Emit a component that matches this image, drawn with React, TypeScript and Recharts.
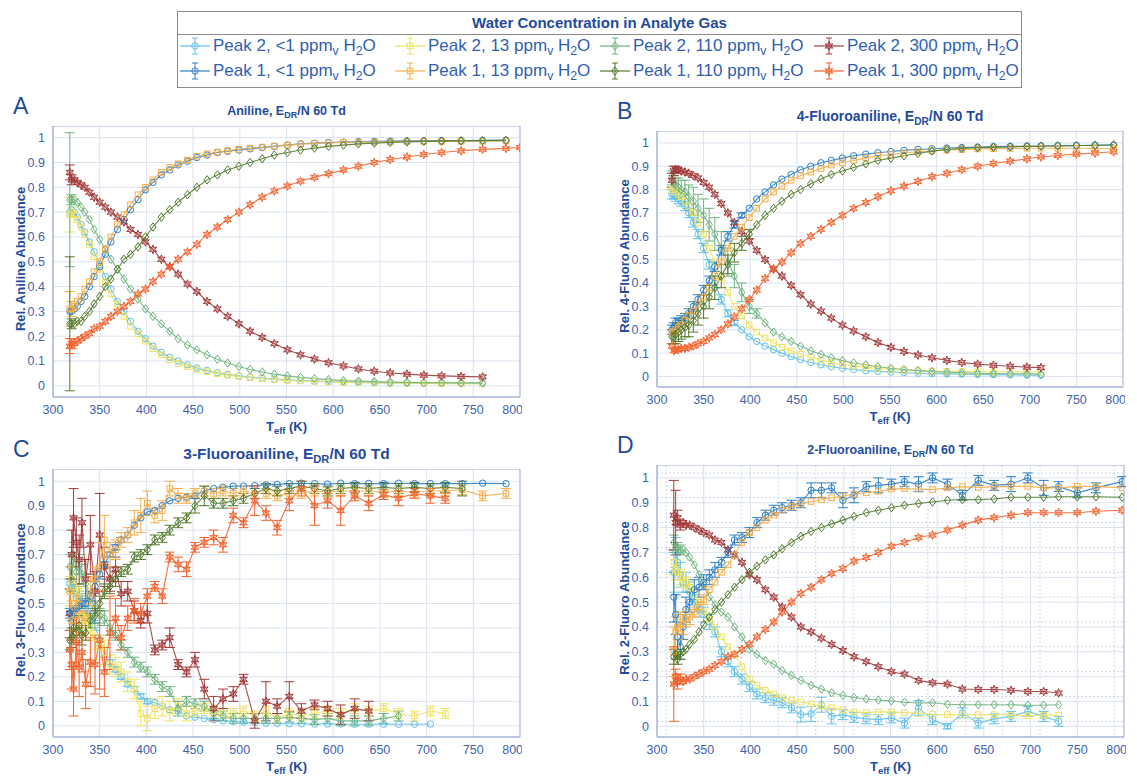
import React from 'react';
import { LineChart, Line, XAxis, YAxis, CartesianGrid, ErrorBar, ReferenceArea } from 'recharts';

// ---- axis ticks ----
const xTicks = [300, 350, 400, 450, 500, 550, 600, 650, 700, 750, 800];
const yTicks = [0, 0.1, 0.2, 0.3, 0.4, 0.5, 0.6, 0.7, 0.8, 0.9, 1];

// ---- A: Aniline ----
const tA = [318, 320, 323, 326, 330, 334, 339, 344, 350, 356, 362, 369, 376, 383, 391, 399, 407, 416, 425, 434, 444, 454, 465, 476, 487, 499, 511, 524, 537, 551, 565, 580, 595, 611, 627, 644, 661, 679, 697, 716, 737, 760, 785, 800];
const aP2lt1 = [0.70, 0.71, 0.70, 0.68, 0.65, 0.62, 0.58, 0.54, 0.49, 0.44, 0.39, 0.34, 0.30, 0.26, 0.22, 0.19, 0.16, 0.135, 0.115, 0.10, 0.085, 0.072, 0.062, 0.053, 0.046, 0.04, 0.035, 0.031, 0.027, 0.024, 0.021, 0.019, 0.017, 0.015, 0.014, 0.013, 0.012, 0.012, 0.011, 0.01, 0.01, 0.01, null, null];
const aP1lt1 = [0.30, 0.30, 0.31, 0.32, 0.34, 0.36, 0.40, 0.44, 0.48, 0.53, 0.58, 0.63, 0.67, 0.71, 0.75, 0.79, 0.82, 0.85, 0.87, 0.89, 0.905, 0.92, 0.93, 0.94, 0.945, 0.95, 0.955, 0.96, 0.965, 0.97, 0.975, 0.978, 0.98, 0.982, 0.984, 0.985, 0.986, 0.987, 0.987, 0.988, 0.988, 0.989, 0.99, null];
const aP2w13 = [0.69, 0.70, 0.69, 0.67, 0.64, 0.61, 0.57, 0.52, 0.47, 0.42, 0.37, 0.33, 0.28, 0.24, 0.21, 0.18, 0.15, 0.125, 0.105, 0.09, 0.077, 0.066, 0.057, 0.049, 0.043, 0.038, 0.033, 0.029, 0.026, 0.022, 0.02, 0.018, 0.016, 0.014, 0.013, 0.012, 0.011, 0.01, 0.01, 0.009, 0.009, 0.008, null, null];
const aP1w13 = [0.31, 0.31, 0.32, 0.34, 0.36, 0.39, 0.42, 0.46, 0.50, 0.55, 0.60, 0.65, 0.69, 0.73, 0.77, 0.80, 0.83, 0.86, 0.88, 0.895, 0.91, 0.925, 0.935, 0.942, 0.948, 0.953, 0.958, 0.962, 0.966, 0.97, 0.974, 0.977, 0.979, 0.981, 0.982, 0.983, 0.984, 0.985, 0.985, 0.985, 0.986, 0.986, 0.987, null];
const aP2w110 = [0.75, 0.75, 0.75, 0.74, 0.72, 0.70, 0.67, 0.63, 0.59, 0.55, 0.51, 0.47, 0.43, 0.39, 0.35, 0.31, 0.28, 0.25, 0.22, 0.19, 0.165, 0.145, 0.125, 0.107, 0.092, 0.078, 0.066, 0.056, 0.047, 0.04, 0.034, 0.029, 0.025, 0.021, 0.019, 0.017, 0.015, 0.014, 0.013, 0.013, 0.012, 0.012, null, null];
const aP1w110 = [0.25, 0.25, 0.25, 0.26, 0.26, 0.28, 0.30, 0.33, 0.36, 0.40, 0.43, 0.47, 0.51, 0.53, 0.56, 0.60, 0.64, 0.68, 0.71, 0.74, 0.77, 0.80, 0.83, 0.85, 0.87, 0.885, 0.90, 0.915, 0.93, 0.94, 0.95, 0.958, 0.965, 0.97, 0.975, 0.978, 0.981, 0.983, 0.985, 0.986, 0.987, 0.988, 0.989, null];
const aP2w300 = [0.86, 0.83, 0.83, 0.82, 0.81, 0.80, 0.78, 0.76, 0.74, 0.72, 0.70, 0.68, 0.66, 0.63, 0.61, 0.58, 0.55, 0.51, 0.48, 0.45, 0.41, 0.38, 0.34, 0.31, 0.28, 0.25, 0.22, 0.195, 0.17, 0.145, 0.125, 0.108, 0.093, 0.08, 0.068, 0.059, 0.052, 0.047, 0.043, 0.04, 0.038, 0.036, null, null];
const aP1w300 = [0.16, 0.17, 0.17, 0.18, 0.19, 0.20, 0.21, 0.23, 0.24, 0.26, 0.28, 0.30, 0.32, 0.34, 0.37, 0.39, 0.42, 0.45, 0.48, 0.51, 0.54, 0.57, 0.61, 0.64, 0.67, 0.70, 0.73, 0.76, 0.785, 0.805, 0.825, 0.84, 0.855, 0.87, 0.885, 0.90, 0.912, 0.922, 0.932, 0.94, 0.947, 0.953, 0.957, 0.96];
const eA_P2w110 = [0.27, 0.02];
const eA_P1w110 = [0.27, 0.02];
const eA_P2w13 = [0.07, 0.02];
const eA_P1w13 = [0.07, 0.03];
const eA_P2w300 = [0.03, 0.02];
const eA_P1w300 = [0.03, 0.02];

// ---- B: 4-Fluoroaniline ----
const tB = [316, 318, 320, 323, 326, 330, 334, 339, 344, 350, 356, 362, 369, 376, 383, 391, 399, 407, 416, 425, 434, 444, 454, 465, 476, 487, 499, 511, 524, 537, 551, 565, 580, 595, 611, 627, 644, 661, 679, 697, 712, 730, 750, 770, 790];
const bP2lt1 = [0.78, 0.78, 0.77, 0.76, 0.75, 0.73, 0.70, 0.66, 0.61, 0.55, 0.48, 0.40, 0.33, 0.27, 0.23, 0.20, 0.17, 0.15, 0.13, 0.115, 0.10, 0.085, 0.072, 0.06, 0.05, 0.042, 0.035, 0.03, 0.025, 0.022, 0.019, 0.016, 0.014, 0.012, 0.011, 0.01, 0.009, 0.008, 0.007, 0.006, 0.005, null, null, null, null];
const bP1lt1 = [0.20, 0.21, 0.23, 0.23, 0.24, 0.25, 0.27, 0.30, 0.33, 0.37, 0.41, 0.47, 0.54, 0.60, 0.65, 0.69, 0.72, 0.76, 0.79, 0.82, 0.845, 0.865, 0.885, 0.90, 0.915, 0.925, 0.935, 0.945, 0.952, 0.958, 0.963, 0.968, 0.972, 0.975, 0.978, 0.98, 0.982, 0.984, 0.985, 0.986, 0.987, 0.988, 0.989, 0.99, 0.99];
const bP2w13 = [0.80, 0.80, 0.79, 0.78, 0.77, 0.75, 0.73, 0.70, 0.66, 0.61, 0.55, 0.49, 0.42, 0.36, 0.30, 0.26, 0.22, 0.19, 0.165, 0.145, 0.125, 0.11, 0.095, 0.082, 0.07, 0.06, 0.052, 0.045, 0.04, 0.035, 0.03, 0.027, 0.025, 0.023, 0.022, 0.021, 0.02, 0.02, 0.02, 0.019, 0.019, null, null, null, null];
const bP1w13 = [0.19, 0.19, 0.20, 0.21, 0.22, 0.24, 0.26, 0.28, 0.31, 0.34, 0.38, 0.43, 0.49, 0.55, 0.60, 0.64, 0.68, 0.72, 0.76, 0.79, 0.815, 0.84, 0.86, 0.875, 0.89, 0.905, 0.915, 0.925, 0.935, 0.945, 0.95, 0.957, 0.962, 0.966, 0.97, 0.972, 0.974, 0.975, 0.976, 0.977, 0.977, 0.977, 0.977, 0.976, 0.975];
const bP2w110 = [0.85, 0.83, 0.82, 0.81, 0.80, 0.79, 0.77, 0.75, 0.72, 0.69, 0.65, 0.61, 0.55, 0.49, 0.43, 0.36, 0.30, 0.27, 0.23, 0.19, 0.17, 0.15, 0.13, 0.11, 0.095, 0.08, 0.068, 0.058, 0.05, 0.042, 0.035, 0.03, 0.025, 0.021, 0.018, 0.016, 0.014, 0.013, 0.012, 0.011, 0.01, null, null, null, null];
const bP1w110 = [0.17, 0.17, 0.18, 0.19, 0.20, 0.21, 0.22, 0.24, 0.27, 0.30, 0.34, 0.38, 0.43, 0.48, 0.53, 0.57, 0.61, 0.65, 0.69, 0.72, 0.75, 0.78, 0.80, 0.825, 0.845, 0.865, 0.88, 0.895, 0.91, 0.925, 0.935, 0.945, 0.955, 0.965, 0.972, 0.976, 0.979, 0.981, 0.983, 0.985, 0.986, 0.987, 0.988, 0.99, 0.992];
const bP2w300 = [0.84, 0.88, 0.885, 0.885, 0.88, 0.875, 0.87, 0.86, 0.85, 0.83, 0.81, 0.78, 0.74, 0.70, 0.66, 0.62, 0.58, 0.54, 0.50, 0.46, 0.43, 0.39, 0.35, 0.31, 0.28, 0.25, 0.22, 0.195, 0.17, 0.145, 0.125, 0.107, 0.092, 0.08, 0.069, 0.06, 0.053, 0.048, 0.044, 0.04, 0.038, null, null, null, null];
const bP1w300 = [0.13, 0.11, 0.115, 0.115, 0.12, 0.12, 0.125, 0.13, 0.14, 0.15, 0.165, 0.18, 0.20, 0.225, 0.255, 0.29, 0.33, 0.37, 0.42, 0.46, 0.49, 0.53, 0.57, 0.60, 0.63, 0.66, 0.69, 0.72, 0.745, 0.77, 0.795, 0.815, 0.835, 0.855, 0.87, 0.885, 0.90, 0.912, 0.922, 0.932, 0.94, 0.946, 0.952, 0.957, 0.962];
const eB_P2lt1 = [0.02, 0.02, 0.02, 0.02, 0.02, 0.02, 0.02, 0.02, 0.02, 0.02, 0.02, 0.02, 0.02, 0.015, 0.01];
const eB_P1lt1 = [0.02, 0.02, 0.02, 0.02, 0.02, 0.02, 0.02, 0.02, 0.02, 0.02, 0.02, 0.02, 0.02, 0.02, 0.015, 0.01];
const eB_P2w110 = [0.03, 0.03, 0.03, 0.04, 0.04, 0.05, 0.05, 0.06, 0.06, 0.07, 0.07, 0.07, 0.07, 0.06, 0.05, 0.04, 0.03, 0.02];
const eB_P1w110 = [0.03, 0.03, 0.04, 0.04, 0.04, 0.04, 0.05, 0.05, 0.05, 0.05, 0.05, 0.05, 0.05, 0.04, 0.04, 0.03, 0.02];
const eB_P2w300 = [0.03, 0.02, 0.015];

// ---- C: 3-Fluoroaniline ----
const tC = [318, 320, 322, 325, 328, 331, 335, 340, 345, 350, 355, 361, 367, 373, 380, 387, 394, 401, 409, 417, 425, 434, 443, 452, 462, 472, 482, 493, 504, 516, 528, 540, 553, 566, 580, 594, 608, 623, 638, 654, 670, 687, 704, 720, 738, 760, 785];
const cP2lt1 = [0.58, 0.57, 0.56, 0.55, 0.53, 0.51, 0.48, 0.45, 0.41, 0.35, 0.30, 0.26, 0.23, 0.20, 0.17, 0.15, 0.12, 0.10, 0.095, 0.08, 0.065, 0.06, 0.04, 0.035, 0.03, 0.025, 0.02, 0.018, 0.015, 0.012, 0.01, 0.009, 0.008, 0.008, 0.007, 0.007, 0.007, 0.006, 0.006, 0.006, 0.006, 0.006, 0.007, null, null, null, null];
const cP1lt1 = [0.46, 0.45, 0.47, 0.48, 0.49, 0.50, 0.50, 0.53, 0.57, 0.62, 0.66, 0.70, 0.73, 0.76, 0.78, 0.82, 0.85, 0.875, 0.88, 0.90, 0.92, 0.93, 0.935, 0.94, 0.96, 0.97, 0.975, 0.98, 0.98, 0.982, 0.985, 0.987, 0.99, 0.992, 0.99, 0.988, 0.992, 0.99, 0.991, 0.99, 0.992, 0.99, 0.991, 0.99, 0.99, 0.992, 0.99];
const cP2w13 = [0.55, 0.60, 0.57, 0.50, 0.55, 0.45, 0.43, 0.40, 0.36, 0.32, 0.30, 0.25, 0.24, 0.22, 0.18, 0.15, 0.05, 0.03, 0.07, 0.08, 0.06, 0.08, 0.05, 0.06, 0.07, 0.06, 0.05, 0.05, 0.06, 0.04, 0.06, 0.03, 0.05, 0.04, 0.05, 0.06, 0.05, 0.07, 0.06, 0.07, 0.05, 0.04, 0.06, 0.05, null, null, null];
const cP1w13 = [0.55, 0.43, 0.50, 0.45, 0.52, 0.42, 0.45, 0.55, 0.60, 0.65, 0.76, 0.70, 0.72, 0.76, 0.78, 0.83, 0.86, 0.91, 0.86, 0.88, 0.97, 0.94, 0.93, 0.95, 0.96, 0.95, 0.96, 0.95, 0.96, 0.95, 0.95, 0.94, 0.95, 0.95, 0.96, 0.955, 0.96, 0.96, 0.96, 0.955, 0.96, 0.955, 0.96, 0.96, 0.965, 0.94, 0.95];
const cP2w110 = [0.65, 0.60, 0.70, 0.63, 0.66, 0.62, 0.58, 0.52, 0.48, 0.45, 0.44, 0.40, 0.37, 0.33, 0.30, 0.26, 0.24, 0.22, 0.19, 0.16, 0.14, 0.07, 0.10, 0.09, 0.08, 0.05, 0.04, 0.03, 0.03, 0.03, 0.03, 0.03, 0.035, 0.03, 0.025, 0.03, 0.02, 0.02, 0.02, 0.03, 0.04, null, null, null, null, null, null];
const cP1w110 = [0.35, 0.36, 0.40, 0.38, 0.41, 0.37, 0.38, 0.43, 0.45, 0.50, 0.55, 0.57, 0.60, 0.63, 0.64, 0.69, 0.70, 0.72, 0.76, 0.77, 0.80, 0.83, 0.85, 0.90, 0.94, 0.91, 0.91, 0.92, 0.93, 0.95, 0.97, 0.96, 0.97, 0.98, 0.97, 0.96, 0.97, 0.975, 0.97, 0.975, 0.97, 0.975, 0.97, 0.975, 0.97, null, null];
const cP2w300 = [0.46, 0.70, 0.85, 0.75, 0.68, 0.83, 0.60, 0.74, 0.55, 0.78, 0.65, 0.60, 0.64, 0.54, 0.55, 0.47, 0.43, 0.46, 0.31, 0.33, 0.36, 0.25, 0.22, 0.27, 0.15, 0.07, 0.11, 0.13, 0.19, 0.02, 0.10, 0.08, 0.12, 0.06, 0.085, 0.07, 0.045, 0.07, 0.06, null, null, null, null, null, null, null, null];
const cP1w300 = [0.31, 0.25, 0.15, 0.34, 0.24, 0.30, 0.17, 0.26, 0.25, 0.35, 0.22, 0.38, 0.44, 0.36, 0.44, 0.47, 0.46, 0.53, 0.57, 0.53, 0.69, 0.66, 0.64, 0.73, 0.75, 0.77, 0.74, 0.86, 0.83, 0.92, 0.87, 0.81, 0.92, 0.97, 0.90, 0.92, 0.88, 0.94, 0.91, 0.945, 0.93, 0.95, 0.94, 0.93, null, null, null];
const eC_P2lt1 = [0.02, 0.02, 0.02, 0.02, 0.02, 0.02, 0.02, 0.02, 0.02, 0.02, 0.02, 0.01, 0.01, 0.01, 0.01, 0.01, 0.01, 0.01];
const eC_P1lt1 = [0.02, 0.02, 0.02, 0.02, 0.02, 0.02, 0.02, 0.02, 0.02, 0.02, 0.01, 0.01, 0.01, 0.01];
const eC_P2w13 = [0.06, 0.05, 0.05, 0.05, 0.05, 0.05, 0.05, 0.05, 0.05, 0.05, 0.05, 0.04, 0.04, 0.04, 0.04, 0.04, 0.05, 0.05, 0.04, 0.04, 0.04, 0.03, 0.03, 0.02, 0.02, 0.02, 0.02, 0.02, 0.02, 0.02, 0.02, 0.02, 0.02, 0.02, 0.02, 0.02, 0.02, 0.02, 0.02, 0.02, 0.02, 0.02, 0.02, 0.02];
const eC_P1w13 = [0.1, 0.08, 0.06, 0.05, 0.05, 0.05, 0.05, 0.06, 0.05, 0.1, 0.1, 0.05, 0.04, 0.03, 0.03, 0.05, 0.07, 0.05, 0.03, 0.04, 0.03, 0.03, 0.02, 0.02, 0.02, 0.02, 0.02, 0.02, 0.02, 0.02, 0.02, 0.02, 0.02, 0.02, 0.02, 0.02, 0.02, 0.02, 0.02, 0.02, 0.02, 0.02, 0.02, 0.02, 0.02, 0.02, 0.02];
const eC_P2w110 = [0.05, 0.05, 0.05, 0.05, 0.04, 0.04, 0.04, 0.03, 0.03, 0.03, 0.03, 0.03, 0.02, 0.02, 0.02, 0.02, 0.02, 0.02, 0.02, 0.02, 0.02, 0.03, 0.02, 0.02, 0.02, 0.02, 0.02, 0.02, 0.02, 0.02, 0.02, 0.02, 0.02, 0.02, 0.02, 0.02, 0.02, 0.02, 0.02, 0.02, 0.02];
const eC_P1w110 = [0.04, 0.04, 0.04, 0.04, 0.04, 0.04, 0.03, 0.03, 0.03, 0.03, 0.03, 0.03, 0.03, 0.02, 0.02, 0.02, 0.02, 0.02, 0.02, 0.02, 0.02, 0.02, 0.02, 0.03, 0.04, 0.02, 0.02, 0.02, 0.02, 0.02, 0.02, 0.02, 0.02, 0.02, 0.02, 0.02, 0.02, 0.02, 0.02, 0.02, 0.02, 0.02, 0.02, 0.02, 0.03];
const eC_P2w300 = [0.1, 0.1, 0.12, 0.1, 0.1, 0.1, 0.08, 0.12, 0.08, 0.17, 0.08, 0.05, 0.05, 0.05, 0.04, 0.04, 0.03, 0.04, 0.02, 0.02, 0.04, 0.02, 0.02, 0.03, 0.04, 0.05, 0.04, 0.03, 0.02, 0.03, 0.08, 0.03, 0.06, 0.03, 0.02, 0.03, 0.04, 0.04, 0.04];
const eC_P1w300 = [0.08, 0.1, 0.11, 0.1, 0.12, 0.08, 0.1, 0.1, 0.12, 0.2, 0.1, 0.15, 0.08, 0.05, 0.05, 0.05, 0.04, 0.03, 0.02, 0.03, 0.02, 0.03, 0.03, 0.02, 0.02, 0.03, 0.03, 0.03, 0.02, 0.06, 0.03, 0.03, 0.04, 0.03, 0.08, 0.03, 0.06, 0.02, 0.03, 0.02, 0.03, 0.02, 0.03, 0.02];

// ---- D: 2-Fluoroaniline ----
const tD = [318, 320, 322, 325, 328, 331, 335, 340, 345, 350, 356, 362, 369, 376, 383, 391, 399, 407, 416, 425, 434, 444, 454, 465, 476, 487, 499, 511, 524, 537, 551, 565, 580, 595, 611, 627, 644, 661, 679, 697, 714, 730, 750, 770, 798];
const dP2lt1 = [0.62, 0.70, 0.66, 0.61, 0.58, 0.58, 0.54, 0.50, 0.47, 0.45, 0.42, 0.38, 0.30, 0.26, 0.22, 0.19, 0.16, 0.13, 0.115, 0.105, 0.095, 0.074, 0.047, 0.05, 0.087, 0.04, 0.047, 0.036, 0.03, 0.027, 0.034, 0.013, 0.074, 0.027, 0.0, 0.054, 0.013, 0.03, 0.04, 0.06, 0.04, 0.02, null, null, null];
const dP1lt1 = [0.52, 0.45, 0.36, 0.32, 0.40, 0.47, 0.50, 0.55, 0.56, 0.58, 0.60, 0.63, 0.66, 0.70, 0.75, 0.76, 0.78, 0.82, 0.85, 0.87, 0.88, 0.89, 0.90, 0.95, 0.95, 0.96, 0.91, 0.93, 0.965, 0.97, 0.975, 0.985, 0.975, 1.0, 0.975, 0.93, 0.99, 0.97, 0.975, 1.0, 0.96, 0.965, 0.94, 0.96, 0.985];
const dP2w13 = [0.66, 0.63, 0.62, 0.60, 0.59, 0.58, 0.56, 0.53, 0.50, 0.46, 0.43, 0.40, 0.36, 0.32, 0.29, 0.24, 0.19, 0.165, 0.145, 0.13, 0.115, 0.105, 0.097, 0.09, 0.082, 0.075, 0.067, 0.058, 0.055, 0.058, 0.058, 0.055, 0.052, 0.048, 0.047, 0.047, 0.047, 0.047, 0.045, 0.042, 0.045, 0.045, null, null, null];
const dP1w13 = [0.30, 0.38, 0.40, 0.42, 0.41, 0.43, 0.44, 0.46, 0.48, 0.51, 0.55, 0.58, 0.62, 0.65, 0.69, 0.74, 0.78, 0.80, 0.83, 0.85, 0.87, 0.885, 0.895, 0.905, 0.912, 0.92, 0.926, 0.935, 0.94, 0.946, 0.955, 0.957, 0.955, 0.953, 0.96, 0.965, 0.962, 0.964, 0.966, 0.966, 0.96, 0.96, 0.966, 0.966, 0.96];
const dP2w110 = [0.74, 0.72, 0.72, 0.71, 0.71, 0.70, 0.68, 0.65, 0.61, 0.57, 0.52, 0.49, 0.46, 0.44, 0.40, 0.36, 0.31, 0.29, 0.265, 0.25, 0.225, 0.205, 0.185, 0.165, 0.15, 0.135, 0.124, 0.116, 0.11, 0.106, 0.102, 0.097, 0.094, 0.095, 0.089, 0.087, 0.087, 0.087, 0.087, 0.085, 0.085, 0.087, null, null, null];
const dP1w110 = [0.28, 0.29, 0.27, 0.29, 0.30, 0.31, 0.33, 0.35, 0.38, 0.41, 0.44, 0.47, 0.50, 0.53, 0.56, 0.59, 0.62, 0.645, 0.67, 0.69, 0.715, 0.74, 0.765, 0.785, 0.80, 0.815, 0.83, 0.845, 0.86, 0.87, 0.88, 0.89, 0.897, 0.903, 0.91, 0.913, 0.912, 0.915, 0.922, 0.922, 0.922, 0.924, 0.924, 0.924, 0.922];
const dP2w300 = [0.85, 0.82, 0.84, 0.81, 0.82, 0.81, 0.81, 0.80, 0.79, 0.78, 0.77, 0.75, 0.74, 0.71, 0.69, 0.66, 0.61, 0.59, 0.55, 0.52, 0.48, 0.44, 0.40, 0.38, 0.355, 0.33, 0.305, 0.28, 0.26, 0.24, 0.22, 0.21, 0.185, 0.175, 0.17, 0.15, 0.148, 0.148, 0.145, 0.14, 0.14, 0.134, null, null, null];
const dP1w300 = [0.17, 0.20, 0.18, 0.19, 0.18, 0.19, 0.19, 0.20, 0.21, 0.22, 0.23, 0.245, 0.26, 0.28, 0.29, 0.31, 0.33, 0.36, 0.39, 0.42, 0.46, 0.50, 0.535, 0.56, 0.59, 0.615, 0.635, 0.665, 0.68, 0.70, 0.725, 0.74, 0.76, 0.77, 0.79, 0.81, 0.83, 0.84, 0.85, 0.86, 0.86, 0.86, 0.86, 0.866, 0.87];
const eD_P2lt1 = [0.08, 0.06, 0.05, 0.05, 0.04, 0.04, 0.04, 0.03, 0.03, 0.03, 0.03, 0.02, 0.02, 0.02, 0.02, 0.02, 0.02, 0.02, 0.02, 0.02, 0.02, 0.02, 0.03, 0.03, 0.03, 0.03, 0.02, 0.02, 0.02, 0.02, 0.02, 0.02, 0.03, 0.02, 0.01, 0.02, 0.02, 0.02, 0.02, 0.02, 0.02, 0.02];
const eD_P1lt1 = [0.1, 0.08, 0.06, 0.05, 0.05, 0.05, 0.04, 0.04, 0.04, 0.03, 0.03, 0.03, 0.02, 0.02, 0.02, 0.02, 0.02, 0.02, 0.02, 0.02, 0.02, 0.02, 0.02, 0.03, 0.03, 0.02, 0.03, 0.03, 0.02, 0.03, 0.02, 0.02, 0.03, 0.02, 0.02, 0.02, 0.02, 0.02, 0.03, 0.02, 0.03, 0.02, 0.02, 0.02, 0.02];
const eD_P2w13 = [0.05, 0.04, 0.03, 0.03, 0.03, 0.02, 0.02, 0.02];
const eD_P1w13 = [0.1, 0.06, 0.05, 0.04, 0.04, 0.03, 0.03, 0.02, 0.02, 0.02];
const eD_P2w110 = [0.03, 0.02, 0.02, 0.02];
const eD_P1w110 = [0.03, 0.02, 0.02, 0.02];
const eD_P2w300 = [0.14, 0.13, 0.03, 0.02];
const eD_P1w300 = [0.15, 0.03, 0.03, 0.02];

// ---- series look ----
type Shape = 'circle' | 'square' | 'diamond' | 'star';
const SERIES: { id: string; peak: number; water: string; color: string; shape: Shape }[] = [
  { id: 'p2lt1', peak: 2, water: '<1', color: '#5fc0ea', shape: 'circle' },
  { id: 'p2w13', peak: 2, water: '13', color: '#efe15e', shape: 'square' },
  { id: 'p2w110', peak: 2, water: '110', color: '#6db27c', shape: 'diamond' },
  { id: 'p2w300', peak: 2, water: '300', color: '#a33a3a', shape: 'star' },
  { id: 'p1lt1', peak: 1, water: '<1', color: '#2c7fc3', shape: 'circle' },
  { id: 'p1w13', peak: 1, water: '13', color: '#f5ad48', shape: 'square' },
  { id: 'p1w110', peak: 1, water: '110', color: '#50792a', shape: 'diamond' },
  { id: 'p1w300', peak: 1, water: '300', color: '#f4622c', shape: 'star' },
];

const PANELS = [
  {
    key: 'A', name: 'Aniline', ylabel: 'Rel. Aniline Abundance', t: tA,
    vals: { p2lt1: aP2lt1, p1lt1: aP1lt1, p2w13: aP2w13, p1w13: aP1w13, p2w110: aP2w110, p1w110: aP1w110, p2w300: aP2w300, p1w300: aP1w300 },
    errs: { p2w13: eA_P2w13, p1w13: eA_P1w13, p2w110: eA_P2w110, p1w110: eA_P1w110, p2w300: eA_P2w300, p1w300: eA_P1w300 } as Record<string, number[]>,
    box: { left: 53, top: 126, w: 467, h: 271 }, ydom: [-0.045, 1.047], titleSize: 12.5, minor: false,
  },
  {
    key: 'B', name: '4-Fluoroaniline', ylabel: 'Rel. 4-Fluoro Abundance', t: tB,
    vals: { p2lt1: bP2lt1, p1lt1: bP1lt1, p2w13: bP2w13, p1w13: bP1w13, p2w110: bP2w110, p1w110: bP1w110, p2w300: bP2w300, p1w300: bP1w300 },
    errs: { p2lt1: eB_P2lt1, p1lt1: eB_P1lt1, p2w110: eB_P2w110, p1w110: eB_P1w110, p2w300: eB_P2w300 } as Record<string, number[]>,
    box: { left: 657, top: 131, w: 466, h: 256 }, ydom: [-0.045, 1.051], titleSize: 14, minor: false,
  },
  {
    key: 'C', name: '3-Fluoroaniline', ylabel: 'Rel. 3-Fluoro Abundance', t: tC,
    vals: { p2lt1: cP2lt1, p1lt1: cP1lt1, p2w13: cP2w13, p1w13: cP1w13, p2w110: cP2w110, p1w110: cP1w110, p2w300: cP2w300, p1w300: cP1w300 },
    errs: { p2lt1: eC_P2lt1, p1lt1: eC_P1lt1, p2w13: eC_P2w13, p1w13: eC_P1w13, p2w110: eC_P2w110, p1w110: eC_P1w110, p2w300: eC_P2w300, p1w300: eC_P1w300 } as Record<string, number[]>,
    box: { left: 53, top: 469, w: 467, h: 268 }, ydom: [-0.046, 1.05], titleSize: 15.5, minor: false,
  },
  {
    key: 'D', name: '2-Fluoroaniline', ylabel: 'Rel. 2-Fluoro Abundance', t: tD,
    vals: { p2lt1: dP2lt1, p1lt1: dP1lt1, p2w13: dP2w13, p1w13: dP1w13, p2w110: dP2w110, p1w110: dP1w110, p2w300: dP2w300, p1w300: dP1w300 },
    errs: { p2lt1: eD_P2lt1, p1lt1: eD_P1lt1, p2w13: eD_P2w13, p1w13: eD_P1w13, p2w110: eD_P2w110, p1w110: eD_P1w110, p2w300: eD_P2w300, p1w300: eD_P1w300 } as Record<string, number[]>,
    box: { left: 657, top: 465, w: 467, h: 272 }, ydom: [-0.043, 1.052], titleSize: 12.5, minor: true,
  },
];

// minor grid (panel D only)
const minorX = Array.from({ length: 49 }, (_, i) => 310 + i * 10);
const minorY = Array.from({ length: 54 }, (_, i) => -0.04 + i * 0.02);

const FONT = '"Liberation Sans", Arial, Helvetica, sans-serif';
const TICK = '#3d63ae';
const DARK = '#1f4b9c';
const AXIS = '#a9b7d6';

function marker(shape: Shape, cx: number, cy: number, color: string, key?: string) {
  if (shape === 'circle') return <circle key={key} cx={cx} cy={cy} r={3.2} fill="none" stroke={color} strokeWidth={1} />;
  if (shape === 'square') return <rect key={key} x={cx - 2.8} y={cy - 2.8} width={5.6} height={5.6} fill="none" stroke={color} strokeWidth={1} />;
  if (shape === 'diamond')
    return <polygon key={key} points={`${cx},${cy - 4.2} ${cx + 3.2},${cy} ${cx},${cy + 4.2} ${cx - 3.2},${cy}`} fill="none" stroke={color} strokeWidth={1} />;
  const pts: string[] = [];
  for (let k = 0; k < 12; k++) {
    const r = k % 2 === 0 ? 4.4 : 2;
    const a = (Math.PI / 6) * k - Math.PI / 2;
    pts.push(`${cx + r * Math.cos(a)},${cy + r * Math.sin(a)}`);
  }
  return <polygon key={key} points={pts.join(' ')} fill={color} fillOpacity={0.35} stroke={color} strokeWidth={1} />;
}

const Sub = ({ children }: { children: React.ReactNode }) => (
  <span style={{ fontSize: '0.72em', position: 'relative', top: '0.35em' }}>{children}</span>
);

function Panel({ p }: { p: (typeof PANELS)[number] }) {
  const W = 50;
  const H = 30;
  const { left, top, w, h } = p.box;
  return (
    <div style={{ position: 'absolute', left: left - W, top }}>
      <LineChart width={w + W + 2} height={h + H} margin={{ top: 0, right: 2, bottom: 0, left: 0 }}>
        {p.minor && (
          <CartesianGrid stroke="#cdd6e6" strokeDasharray="2 2" verticalValues={minorX} horizontalValues={minorY} />
        )}
        <CartesianGrid stroke="#dbe2ef" />
        <XAxis
          type="number"
          dataKey="t"
          domain={[300, 800]}
          ticks={xTicks}
          height={H}
          stroke={AXIS}
          tickLine={false}
          tick={{ fill: TICK, fontSize: 12.5, fontFamily: FONT }}
          allowDataOverflow
        />
        <YAxis
          type="number"
          domain={p.ydom}
          ticks={yTicks}
          width={W}
          stroke={AXIS}
          tickLine={false}
          tickFormatter={(v: number) => String(+v.toFixed(1))}
          tick={{ fill: TICK, fontSize: 12.5, fontFamily: FONT }}
          allowDataOverflow
        />
        <ReferenceArea x1={300} x2={800} y1={p.ydom[0]} y2={p.ydom[1]} fill="none" stroke={AXIS} strokeWidth={1} />
        {SERIES.map((s) => {
          const v = (p.vals as Record<string, (number | null)[]>)[s.id];
          const e = p.errs[s.id];
          const rows = p.t
            .map((t, i) => ({ t, v: v[i], e: e ? e[i] : undefined }))
            .filter((r) => r.v != null);
          return (
            <Line
              key={s.id}
              data={rows}
              dataKey="v"
              stroke={s.color}
              strokeWidth={1.1}
              strokeOpacity={0.9}
              isAnimationActive={false}
              dot={(d: any) => marker(s.shape, d.cx, d.cy, s.color, `${s.id}-${d.index}`)}
              activeDot={false}
            >
              <ErrorBar dataKey="e" width={5} strokeWidth={1} stroke={s.color} direction="y" isAnimationActive={false} />
            </Line>
          );
        })}
      </LineChart>
    </div>
  );
}

function LegendItem({ s, left, top }: { s: (typeof SERIES)[number]; left: number; top: number }) {
  return (
    <div style={{ position: 'absolute', left, top, display: 'flex', alignItems: 'center', whiteSpace: 'nowrap' }}>
      <svg width={30} height={20} style={{ marginRight: 3 }}>
        <line x1={0} y1={10} x2={30} y2={10} stroke={s.color} strokeWidth={1.2} />
        <line x1={15} y1={2} x2={15} y2={18} stroke={s.color} strokeWidth={1} />
        <line x1={12} y1={2} x2={18} y2={2} stroke={s.color} strokeWidth={1} />
        <line x1={12} y1={18} x2={18} y2={18} stroke={s.color} strokeWidth={1} />
        {marker(s.shape, 15, 10, s.color)}
      </svg>
      <span style={{ fontSize: 17, color: '#2f5fb3' }}>
        Peak {s.peak}, {s.water} ppm<Sub>v</Sub> H<Sub>2</Sub>O
      </span>
    </div>
  );
}

export default function App() {
  const cols = [180, 395, 600, 814];
  const row2 = SERIES.filter((s) => s.peak === 2);
  const row1 = SERIES.filter((s) => s.peak === 1);
  return (
    <div style={{ position: 'absolute', left: 0, top: 0, width: 1137, height: 776, background: '#fff', fontFamily: FONT, overflow: 'hidden' }}>
      {/* legend box */}
      <div style={{ position: 'absolute', left: 177, top: 11, width: 845, height: 77, border: '1px solid #8a8a8a', boxSizing: 'border-box' }}>
        <div style={{ height: 22, borderBottom: '1px solid #8a8a8a', textAlign: 'center', fontWeight: 'bold', fontSize: 15, color: DARK, lineHeight: '22px' }}>
          Water Concentration in Analyte Gas
        </div>
      </div>
      {row2.map((s, i) => (
        <LegendItem key={s.id} s={s} left={cols[i]} top={36} />
      ))}
      {row1.map((s, i) => (
        <LegendItem key={s.id} s={s} left={cols[i]} top={61} />
      ))}

      {PANELS.map((p) => {
        const { left, top, w, h } = p.box;
        const cx = left + w / 2;
        return (
          <React.Fragment key={p.key}>
            <Panel p={p} />
            <div style={{ position: 'absolute', left: left - 40, top: top - 20, fontSize: 23, color: DARK, transform: 'translateY(-50%)' }}>{p.key}</div>
            <div style={{ position: 'absolute', left: cx, top: top - 15, transform: 'translate(-50%,-50%)', fontWeight: 'bold', fontSize: p.titleSize, color: DARK, whiteSpace: 'nowrap' }}>
              {p.name}, E<Sub>DR</Sub>/N 60 Td
            </div>
            <div style={{ position: 'absolute', left: left - 33, top: top + h / 2 - 3, transform: 'translate(-50%,-50%) rotate(-90deg)', fontWeight: 'bold', fontSize: 13, color: DARK, whiteSpace: 'nowrap' }}>
              {p.ylabel}
            </div>
            <div style={{ position: 'absolute', left: cx, top: top + h + 29, transform: 'translate(-50%,-50%)', fontWeight: 'bold', fontSize: 13, color: DARK, whiteSpace: 'nowrap' }}>
              T<Sub>eff</Sub> (K)
            </div>
          </React.Fragment>
        );
      })}
    </div>
  );
}
